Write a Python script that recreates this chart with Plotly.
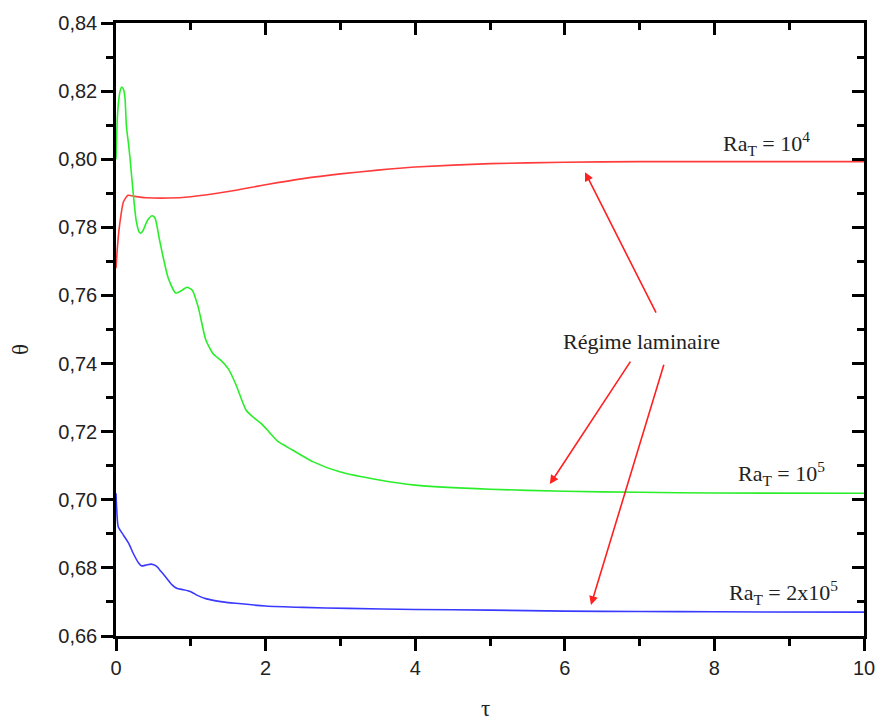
import plotly.graph_objects as go

# Dimensionless time τ and mean temperature θ for three thermal Rayleigh numbers
tau_ra1e4 = [0, 0.02, 0.05, 0.1, 0.16, 0.25, 0.4, 0.7, 1.0, 1.5, 2.0, 2.5, 3.0, 3.5, 4.0, 5.0, 6.0, 7.0, 8.0, 10.0]
theta_ra1e4 = [0.768, 0.7745, 0.781, 0.7875, 0.7894, 0.7891, 0.7887, 0.7886, 0.7890, 0.7905, 0.7925, 0.7943,
               0.7957, 0.7968, 0.7977, 0.7987, 0.7991, 0.7993, 0.7993, 0.7993]

tau_ra1e5 = [0, 0.02, 0.05, 0.076, 0.1, 0.12, 0.14, 0.17, 0.19, 0.23, 0.27, 0.31, 0.33, 0.36, 0.42, 0.48,
             0.52, 0.58, 0.63, 0.7, 0.8, 0.88, 0.95, 1.02, 1.1, 1.2, 1.3, 1.4, 1.5, 1.6, 1.74, 1.85,
             1.95, 2.05, 2.16, 2.36, 2.63, 2.99, 3.52, 4.0, 5.0, 6.0, 7.0, 8.0, 10.0]
theta_ra1e5 = [0.800, 0.813, 0.8195, 0.8212, 0.8205, 0.818, 0.8095, 0.804, 0.7997, 0.790, 0.7820, 0.7786,
               0.7783, 0.7790, 0.7820, 0.7834, 0.7828, 0.7765, 0.7713, 0.7650, 0.7607, 0.7615, 0.7624,
               0.7615, 0.7565, 0.7470, 0.7428, 0.7410, 0.7385, 0.7340, 0.7263, 0.7240, 0.7222, 0.7198,
               0.7172, 0.7146, 0.7112, 0.7082, 0.7058, 0.7043, 0.7031, 0.7025, 0.7022, 0.7020, 0.7019]

tau_ra2e5 = [0, 0.01, 0.03, 0.1, 0.17, 0.23, 0.3, 0.34, 0.4, 0.47, 0.54, 0.6, 0.68, 0.75, 0.81, 0.9, 0.96,
             1.02, 1.08, 1.21, 1.4, 1.6, 2.0, 2.5, 3.1, 4.0, 5.0, 6.0, 7.0, 8.0, 10.0]
theta_ra2e5 = [0.7019, 0.697, 0.6921, 0.6896, 0.6872, 0.6843, 0.6815, 0.6806, 0.6808, 0.6811, 0.6805, 0.6790,
               0.6769, 0.6750, 0.6740, 0.6736, 0.6733, 0.6728, 0.6720, 0.6709, 0.6701, 0.6696, 0.6688,
               0.6684, 0.6681, 0.6678, 0.6676, 0.6673, 0.6672, 0.6671, 0.6670]

x_range = [0, 10]
y_range = [0.66, 0.84]

series = [
    (tau_ra1e4, theta_ra1e4, "#ff3b3b", "Ra_T = 1e4"),
    (tau_ra1e5, theta_ra1e5, "#2bee2b", "Ra_T = 1e5"),
    (tau_ra2e5, theta_ra2e5, "#3a3aff", "Ra_T = 2e5"),
]

fig = go.Figure()
for t, th, col, name in series:
    fig.add_trace(go.Scatter(x=t, y=th, mode="lines", name=name,
                             line=dict(color=col, width=1.6, shape="spline", smoothing=0.6)))

# Hidden trace carrying the mirrored top/right axes
fig.add_trace(go.Scatter(x=tau_ra1e4, y=theta_ra1e4, xaxis="x2", yaxis="y2", mode="lines",
                         line=dict(width=0), opacity=0, hoverinfo="skip", showlegend=False))

tick_font = dict(family="Liberation Sans, Arial, sans-serif", size=20, color="#222")
serif = dict(family="Liberation Serif, Times New Roman, serif", size=22, color="#222")
title_font = dict(family="Liberation Serif, Times New Roman, serif", size=23, color="#222")

axis_common = dict(showgrid=False, zeroline=False, showline=True, linecolor="black", linewidth=2.5,
                   ticklen=12, tickwidth=2.5, tickcolor="black")

fig.update_layout(
    width=887, height=724,
    margin=dict(l=116, r=20, t=23, b=88),
    plot_bgcolor="white", paper_bgcolor="white",
    separators=",.",
    showlegend=False,
    xaxis=dict(range=x_range, dtick=2, tick0=0, ticks="outside", tickfont=tick_font,
               minor=dict(dtick=1, ticks="outside", ticklen=7, tickwidth=2.5, tickcolor="black"),
               **axis_common),
    yaxis=dict(range=y_range, dtick=0.02, tick0=0.66, tickformat=".2f", ticks="outside", tickfont=tick_font,
               minor=dict(dtick=0.01, ticks="outside", ticklen=7, tickwidth=2.5, tickcolor="black"),
               **axis_common),
    xaxis2=dict(range=x_range, overlaying="x", side="top", dtick=2, tick0=0, ticks="inside",
                showticklabels=False,
                minor=dict(dtick=1, ticks="inside", ticklen=7, tickwidth=2.5, tickcolor="black"),
                **axis_common),
    yaxis2=dict(range=y_range, overlaying="y", side="right", dtick=0.02, tick0=0.66, ticks="inside",
                showticklabels=False,
                minor=dict(dtick=0.01, ticks="inside", ticklen=7, tickwidth=2.5, tickcolor="black"),
                **axis_common),
)

# Axis titles
fig.add_annotation(x=-0.128, y=0.467, xref="paper", yref="paper", text="θ", textangle=-90,
                   showarrow=False, font=title_font, xanchor="center", yanchor="middle")
fig.add_annotation(x=0.494, y=-0.118, xref="paper", yref="paper", text="τ",
                   showarrow=False, font=title_font, xanchor="center", yanchor="middle")

# Curve labels
labels = [
    (8.69, 0.8047, "Ra<sub>T</sub> = 10<sup>4</sup>"),
    (8.90, 0.7077, "Ra<sub>T</sub> = 10<sup>5</sup>"),
    (8.93, 0.6729, "Ra<sub>T</sub> = 2x10<sup>5</sup>"),
]
for x, y, txt in labels:
    fig.add_annotation(x=x, y=y, text=txt, showarrow=False, font=serif, xanchor="center")

fig.add_annotation(x=7.03, y=0.7466, text="Régime laminaire", showarrow=False, font=serif,
                   xanchor="center")

# Arrows from the note to each curve
arrows = [
    ((7.23, 0.7545), (6.27, 0.7962)),
    ((6.89, 0.7410), (5.80, 0.7046)),
    ((7.33, 0.7401), (6.35, 0.6691)),
]
for (tx, ty), (hx, hy) in arrows:
    fig.add_annotation(x=hx, y=hy, ax=tx, ay=ty, axref="x", ayref="y", xref="x", yref="y",
                       text="", showarrow=True, arrowhead=2, arrowsize=1.1, arrowwidth=1.6,
                       arrowcolor="#ff2020")

fig.write_html("out.html")
